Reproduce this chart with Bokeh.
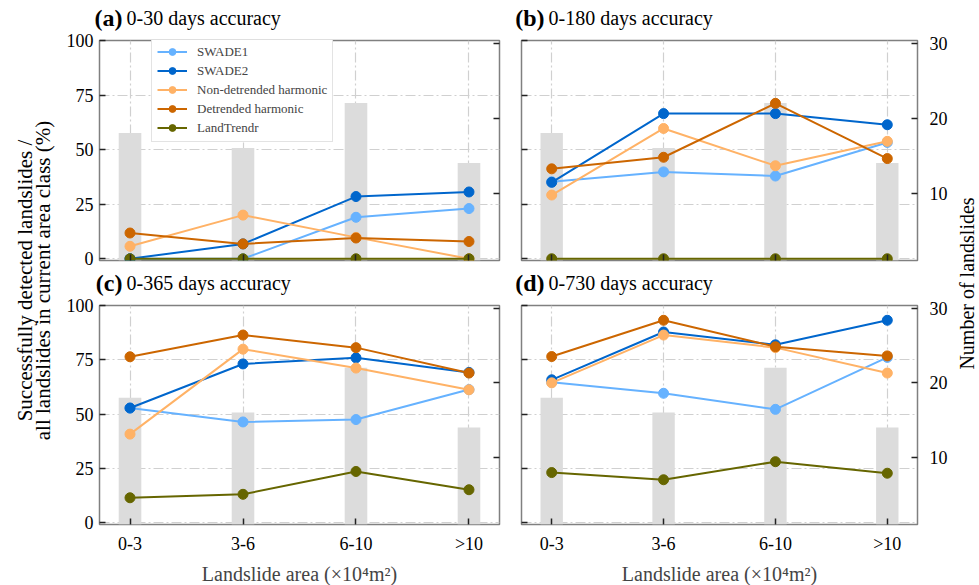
import math
from bokeh.plotting import figure
from bokeh.models import (Range1d, LinearAxis, FixedTicker, Legend, LegendItem)
from bokeh.layouts import row, column
from bokeh.embed import file_html
from bokeh.resources import INLINE
from bokeh.core.properties import value

# ---------------- data ----------------
categories = ["0-3", "3-6", "6-10", ">10"]
landslide_counts = [18, 16, 22, 14]

series_names = ["SWADE1", "SWADE2", "Non-detrended harmonic", "Detrended harmonic", "LandTrendr"]
series_colors = ["#66B2FF", "#0066CC", "#FFB266", "#CC6600", "#666600"]

# (a) 0-30 days
swade1_30 = [0, 0, 19.0, 23.0]
swade2_30 = [0, 6.8, 28.5, 30.6]
nondet_30 = [5.7, 20.0, 9.8, 0]
det_30 = [11.8, 6.8, 9.5, 7.9]
landtrendr_30 = [0, 0, 0, 0]

# (b) 0-180 days
swade1_180 = [35.3, 39.8, 37.9, 53.3]
swade2_180 = [35.0, 66.5, 66.5, 61.4]
nondet_180 = [29.2, 59.7, 42.6, 53.8]
det_180 = [41.2, 46.5, 71.2, 45.9]
landtrendr_180 = [0, 0, 0, 0]

# (c) 0-365 days
swade1_365 = [52.8, 46.4, 47.5, 61.3]
swade2_365 = [52.8, 73.1, 75.9, 69.2]
nondet_365 = [40.8, 79.9, 71.2, 61.2]
det_365 = [76.4, 86.4, 80.6, 68.9]
landtrendr_365 = [11.5, 13.1, 23.6, 15.2]

# (d) 0-730 days
swade1_730 = [64.7, 59.6, 52.2, 76.1]
swade2_730 = [65.8, 87.8, 81.9, 93.2]
nondet_730 = [64.4, 86.4, 80.6, 68.9]
det_730 = [76.5, 93.2, 81.0, 76.8]
landtrendr_730 = [23.1, 19.8, 28.1, 22.8]

panel_tags = ["(a)", "(b)", "(c)", "(d)"]
panel_titles = ["0-30 days accuracy", "0-180 days accuracy",
                "0-365 days accuracy", "0-730 days accuracy"]

left_ticks = [0, 25, 50, 75, 100]
right_ticks = [10, 20, 30]

FONT = "Liberation Serif"
TICK_SIZE = "18px"


def style_axis(ax, show_labels, standoff=6):
    ax.axis_line_color = None
    ax.major_tick_in = 6
    ax.major_tick_out = 0
    ax.minor_tick_line_color = None
    ax.major_tick_line_color = "#222222"
    ax.major_tick_line_width = 1.5
    ax.major_label_text_font = FONT
    ax.major_label_text_font_size = TICK_SIZE
    ax.major_label_text_color = "black"
    ax.major_label_standoff = standoff
    if not show_labels:
        ax.major_label_text_color = None
        ax.major_label_text_alpha = 0
        ax.major_label_text_font_size = "0px"
        ax.major_label_standoff = 0


def make_panel(series, bl, br, bt, bb, fw, fh,
               left_labels, right_labels, x_labels, legend=False):
    xs = list(range(len(categories)))
    p = figure(frame_width=fw, frame_height=fh,
               x_range=Range1d(-0.27, 3.27), y_range=Range1d(-0.8, 100),
               output_backend="svg", toolbar_location=None,
               min_border_left=bl, min_border_right=br,
               min_border_top=bt, min_border_bottom=bb,
               outline_line_color="#808080", outline_line_width=1.5,
               background_fill_color="white", border_fill_color="white")
    p.extra_y_ranges = {"count": Range1d(1.0, 30.35)}

    p.vbar(x=xs, top=landslide_counts, bottom=0, width=0.2,
           y_range_name="count", fill_color="#DCDCDC", line_color=None)

    items = []
    for name, color, vals in zip(series_names, series_colors, series):
        ln = p.line(xs, vals, line_color=color, line_width=2)
        sc = p.scatter(xs, vals, size=10, marker="circle", fill_color=color, line_color=color)
        items.append(LegendItem(label=name, renderers=[ln, sc]))

    p.xaxis.ticker = FixedTicker(ticks=xs)
    p.xaxis.major_label_overrides = {i: c for i, c in enumerate(categories)}
    style_axis(p.xaxis[0], x_labels, standoff=9)
    p.yaxis.ticker = FixedTicker(ticks=left_ticks)
    style_axis(p.yaxis[0], left_labels, standoff=6)

    rax = LinearAxis(y_range_name="count", ticker=FixedTicker(ticks=right_ticks))
    style_axis(rax, right_labels, standoff=12)
    p.add_layout(rax, "right")

    if x_labels:
        p.xaxis.axis_label = "Landslide area (\u00d710\u2074m\u00b2)"
        p.xaxis.axis_label_text_font = FONT
        p.xaxis.axis_label_text_font_style = "normal"
        p.xaxis.axis_label_text_font_size = "20px"
        p.xaxis.axis_label_standoff = 6

    for g in (p.xgrid[0], p.ygrid[0]):
        g.grid_line_color = "#d0d0d0"
        g.grid_line_dash = "10 3 2 3"
        g.grid_line_width = 1.2

    if legend:
        lg = Legend(items=items, location=(52, 118),
                    label_text_font=FONT, label_text_font_size="13px",
                    glyph_width=30, glyph_height=17, label_height=17,
                    spacing=2, padding=5, margin=0, label_standoff=10,
                    border_line_color="#c8c8c8", border_line_width=1.5,
                    background_fill_color="white", background_fill_alpha=1.0)
        p.add_layout(lg)
    return p


PA_W = 41 + 400 + 11
PB_W = 11 + 396 + 33
TOP_STRIP = 31
MID_STRIP = 28
TOP_PAD = 9

pa = make_panel([swade1_30, swade2_30, nondet_30, det_30, landtrendr_30],
                41, 11, TOP_PAD, 8, 400, 220, True, False, False, legend=True)
pb = make_panel([swade1_180, swade2_180, nondet_180, det_180, landtrendr_180],
                11, 33, TOP_PAD, 8, 396, 220, False, True, False)
pc = make_panel([swade1_365, swade2_365, nondet_365, det_365, landtrendr_365],
                41, 11, TOP_PAD, 61, 400, 219, True, False, True)
pd = make_panel([swade1_730, swade2_730, nondet_730, det_730, landtrendr_730],
                11, 33, TOP_PAD, 61, 396, 219, False, True, True)


def blank_fig(width, height):
    f = figure(width=width, height=height, x_range=Range1d(0, width), y_range=Range1d(0, height),
               output_backend="svg", toolbar_location=None, min_border=0,
               x_axis_location=None, y_axis_location=None, outline_line_color=None,
               background_fill_color="white", border_fill_color="white")
    f.xgrid.visible = False
    f.ygrid.visible = False
    return f


def title_strip(height, center_from_top, tags, titles):
    f = blank_fig(PA_W + PB_W, height)
    frame_lefts = [41, PA_W + 11]
    yc = height - center_from_top
    f.text(x=[fl + 23 for fl in frame_lefts], y=[yc, yc], text=tags,
           text_align="right", text_baseline="middle",
           text_font=value(FONT), text_font_style="bold", text_font_size="24px",
           text_color="black")
    f.text(x=[fl + 27 for fl in frame_lefts], y=[yc, yc], text=titles,
           text_align="left", text_baseline="middle",
           text_font=value(FONT), text_font_size="20px", text_color="black")
    return f


top_titles = title_strip(TOP_STRIP, 17, panel_tags[:2], panel_titles[:2])
bottom_titles = title_strip(MID_STRIP, 14, panel_tags[2:], panel_titles[2:])

TOTAL_H = 585
lfig = blank_fig(58, TOTAL_H)
lfig.text(x=[24, 42], y=[TOTAL_H - 280, TOTAL_H - 280],
          text=["Successfully detected landslides /", "all landslides in current area class (%)"],
          angle=math.pi / 2, text_align="center", text_baseline="middle",
          text_font=value(FONT), text_font_size="21px", text_color="black")

RW = 979 - 58 - PA_W - PB_W
rfig = blank_fig(RW, TOTAL_H)
rfig.text(x=[RW - 2], y=[TOTAL_H - 283], text=["Number of landslides"],
          angle=math.pi / 2, text_align="center", text_baseline="bottom",
          text_font=value(FONT), text_font_size="20px", text_color="black")

center = column(top_titles, row(pa, pb), bottom_titles, row(pc, pd))
layout = row(lfig, center, rfig)

open("out.html", "w").write(file_html(layout, INLINE))
